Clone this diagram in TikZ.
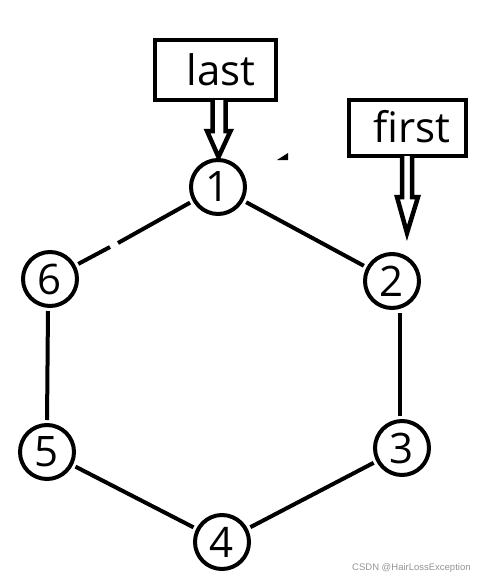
\documentclass[tikz,border=0pt]{standalone}
\usepackage{fontspec}
\setmainfont{Open Sans}
\newfontfamily\wmfont{Liberation Sans}
\begin{document}
\begin{tikzpicture}[x=1pt,y=-1pt,
  vert/.style={circle,draw,line width=4pt,minimum size=54pt,inner sep=0pt,
    font=\fontsize{42}{42}\selectfont},
  lbl/.style={draw,line width=4pt,inner sep=0pt,font=\fontsize{42}{42}\selectfont},
  conn/.style={line width=4pt,shorten <=3pt,shorten >=3pt},
  hollow/.style={line width=4.5pt,line join=miter,fill=white}]
\useasboundingbox (0,0) rectangle (478,584);
% vertices
\node[vert] (one)   at (218,187) {1};
\node[vert] (two)   at (392,281) {2};
\node[vert] (three) at (402,448) {3};
\node[vert] (four)  at (222,542) {4};
\node[vert] (five)  at (47,452)  {5};
\node[vert] (six)   at (50,279)  {6};
% edges
\coordinate (gapA) at (118,243);
\coordinate (gapB) at (110,247);
\draw[conn,shorten >=0pt] (one) -- (gapA);
\draw[conn,shorten <=0pt] (gapB) -- (six);
\draw[conn] (one) -- (two);
\draw[conn] ([xshift=8pt]two.south) -- ([xshift=-2pt]three.north);
\draw[conn] (three) -- (four);
\draw[conn] (four) -- (five);
\draw[conn] ([xshift=-2pt]six.south) -- (five.north);
% label boxes
\node[lbl,minimum width=121pt,minimum height=60pt] (lastbox) at (215.5,70) {};
\node[font=\fontsize{42}{42}\selectfont,anchor=base] (lasttxt) at (221,85) {last};
\node[lbl,minimum width=117pt,minimum height=56pt] (firstbox) at (407.5,128) {};
\node[font=\fontsize{42}{42}\selectfont,anchor=base] (firsttxt) at (412,142) {first};
% hollow arrows
\draw[hollow] (212.5,100) -- (212.5,131) -- (207,131) -- (218.5,157) -- (230.5,131) -- (225.5,131) -- (225.5,100);
\draw[hollow] (402,156) -- (402,197) -- (397,197) -- (407,233) -- (418,197) -- (412,197) -- (412,156);
% stray mark
\fill (277,160) -- (288,160) -- (288,153) -- cycle;
% watermark
\node[font=\wmfont\fontsize{9.5}{10}\selectfont,text=black!42,anchor=west,inner sep=0pt] (wm) at (352,568) {CSDN @HairLossException};
\end{tikzpicture}
\end{document}
